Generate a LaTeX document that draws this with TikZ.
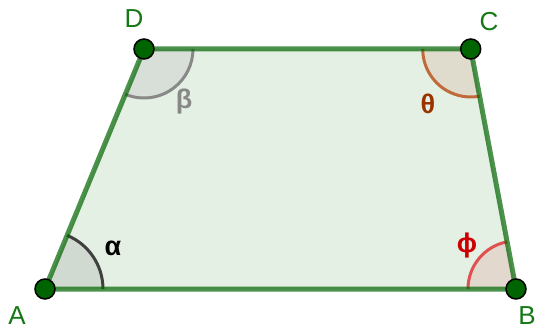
\documentclass[tikz,border=0pt]{standalone}
\usepackage{fontspec}
\setmainfont{Liberation Sans}
\begin{document}
\begin{tikzpicture}[x=1pt,y=1pt,
  ptlabel/.style={font=\fontsize{26}{28}\selectfont,inner sep=0pt},
  anglabel/.style={font=\bfseries\fontsize{27}{29}\selectfont,inner sep=0pt},
  vertex/.style={circle,fill=ptgreen,draw=black,line width=1.5pt,minimum size=20pt,inner sep=0pt},
  edge/.style={draw=ptgreen,line width=5pt,draw opacity=0.7,line join=round}]
\definecolor{ptgreen}{RGB}{0,100,0}
\definecolor{lblgreen}{RGB}{20,120,20}
\definecolor{polyfill}{RGB}{228,240,228}
\definecolor{alphafill}{RGB}{208,218,208}
\definecolor{betafill}{RGB}{216,222,216}
\definecolor{thetafill}{RGB}{223,220,206}
\definecolor{phifill}{RGB}{227,216,206}
\definecolor{alphaline}{RGB}{64,64,64}
\definecolor{betaline}{RGB}{136,136,136}
\definecolor{thetaline}{RGB}{192,106,58}
\definecolor{philine}{RGB}{224,80,80}
\definecolor{thetatext}{RGB}{153,51,0}
\definecolor{phitext}{RGB}{204,0,0}
\useasboundingbox (0,0) rectangle (537,329);
\coordinate (A) at (45,40);
\coordinate (B) at (516,40);
\coordinate (C) at (470.7,280);
\coordinate (D) at (144,280);
% polygon fill
\fill[polyfill] (A) -- (B) -- (C) -- (D) -- cycle;
% angle sectors
\fill[alphafill] (A) -- ++(0:58) arc[start angle=0,end angle=67.6,radius=58] -- cycle;
\fill[betafill] (D) -- ++(247.6:49) arc[start angle=247.6,end angle=360,radius=49] -- cycle;
\fill[thetafill] (C) -- ++(180:48) arc[start angle=180,end angle=280.7,radius=48] -- cycle;
\fill[phifill] (B) -- ++(100.7:48) arc[start angle=100.7,end angle=180,radius=48] -- cycle;
\draw[alphaline,line width=3pt] (A) ++(0:58) arc[start angle=0,end angle=67.6,radius=58];
\draw[betaline,line width=3pt] (D) ++(247.6:49) arc[start angle=247.6,end angle=360,radius=49];
\draw[thetaline,line width=3pt] (C) ++(180:48) arc[start angle=180,end angle=280.7,radius=48];
\draw[philine,line width=3pt] (B) ++(100.7:48) arc[start angle=100.7,end angle=180,radius=48];
% edges
\path[edge] (A) -- (B) -- (C) -- (D) -- cycle;
% vertices
\node[vertex] (pA) at (A) {};
\node[vertex] (pB) at (B) {};
\node[vertex] (pC) at (C) {};
\node[vertex] (pD) at (D) {};
% labels
\node[ptlabel,text=lblgreen] (lA) at (17,13) {A};
\node[ptlabel,text=lblgreen] (lB) at (527,13) {B};
\node[ptlabel,text=lblgreen] (lC) at (489,307) {C};
\node[ptlabel,text=lblgreen] (lD) at (134,310) {D};
\node[anglabel,text=black] (la) at (113,81) {α};
\node[anglabel,text=betaline] (lb) at (184,227) {β};
\node[anglabel,text=thetatext] (lt) at (428,225) {θ};
\node[anglabel,text=phitext] (lp) at (467,83) {ϕ};
\end{tikzpicture}
\end{document}
